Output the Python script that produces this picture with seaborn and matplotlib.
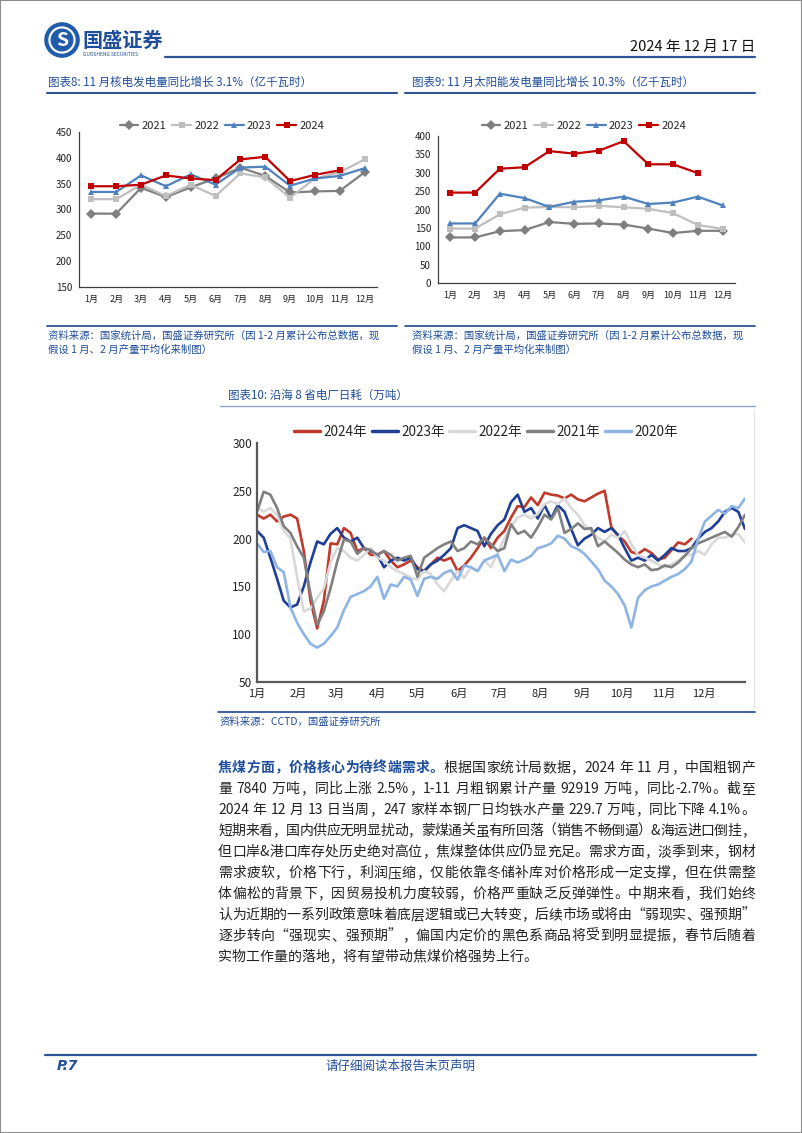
import re
import numpy as np
import pandas as pd
import matplotlib
matplotlib.use("Agg")
import matplotlib.pyplot as plt
from matplotlib.lines import Line2D
from matplotlib.patches import Circle, Rectangle
import seaborn as sns

sns.set_theme(style="white")
plt.rcParams['font.family'] = ['Noto Sans CJK SC', 'DejaVu Sans']
plt.rcParams['axes.unicode_minus'] = False

W, H = 802, 1133
BLUE = '#1F4E9D'
LINE_BLUE = '#2F5597'

# ---- data: 图表8 核电 / 图表9 太阳能 (亿千瓦时) ----
months = [f'{i}月' for i in range(1, 13)]
years = ['2021', '2022', '2023', '2024']

nuclear_2021 = [292, 292, 342, 324, 343, 360, 381, 365, 333, 335, 336, 372]
nuclear_2022 = [320, 320, 348, 326, 348, 326, 370, 362, 323, 360, 372, 397]
nuclear_2023 = [334, 334, 366, 345, 368, 348, 381, 383, 346, 360, 365, 380]
nuclear_2024 = [345, 345, 348, 366, 360, 357, 397, 402, 355, 367, 376]

solar_2021 = [124, 124, 141, 144, 166, 161, 162, 159, 148, 136, 142, 142]
solar_2022 = [148, 148, 187, 205, 207, 206, 210, 206, 202, 190, 158, 147]
solar_2023 = [162, 162, 243, 231, 207, 221, 225, 235, 215, 219, 235, 211]
solar_2024 = [246, 246, 311, 315, 359, 352, 360, 386, 323, 323, 299]

# ---- data: 图表10 沿海8省电厂日耗 (万吨), one reading every 5 days ----
coal_years = ['2024年', '2023年', '2022年', '2021年', '2020年']
coal_2024 = [225, 221, 225, 218, 223, 225, 221, 187, 135, 106,
             135, 195, 194, 211, 206, 187, 190, 183, 183, 187,
             177, 170, 173, 177, 170, 166, 173, 180, 177, 180,
             166, 172, 180, 190, 201, 190, 201, 208, 222, 234,
             233, 243, 235, 248, 246, 245, 242, 246, 241, 239,
             243, 247, 250, 212, 203, 197, 186, 184, 189, 185,
             178, 180, 188, 196, 194, 200]
coal_2023 = [208, 201, 180, 158, 135, 128, 131, 150, 175, 197,
             194, 205, 211, 201, 197, 201, 190, 187, 183, 170,
             177, 180, 177, 180, 168, 166, 173, 177, 183, 190,
             211, 214, 211, 208, 192, 205, 214, 220, 238, 246,
             228, 232, 221, 235, 221, 235, 228, 210, 193, 200,
             204, 211, 207, 211, 204, 190, 177, 180, 177, 183,
             177, 183, 190, 187, 187, 190, 200, 207, 211, 218,
             228, 232, 228, 210]
coal_2022 = [233, 228, 232, 225, 208, 200, 160, 124, 127, 138,
             148, 175, 190, 187, 180, 177, 183, 190, 180, 177,
             170, 166, 163, 159, 157, 166, 163, 152, 145, 156,
             166, 159, 170, 166, 177, 170, 185, 200, 213, 222,
             225, 221, 226, 236, 239, 236, 242, 232, 225, 214,
             208, 201, 197, 204, 201, 208, 194, 183, 180, 177,
             173, 170, 173, 177, 183, 183, 187, 183, 194, 201,
             201, 204, 205, 196]
coal_2021 = [228, 249, 246, 232, 213, 206, 192, 180, 142, 110,
             124, 148, 176, 199, 197, 184, 190, 188, 183, 187,
             183, 177, 180, 182, 160, 180, 185, 190, 194, 197,
             187, 190, 197, 194, 201, 194, 187, 190, 215, 205,
             208, 201, 212, 225, 220, 232, 206, 210, 216, 210,
             211, 192, 197, 191, 185, 178, 173, 170, 173, 167,
             168, 172, 170, 175, 182, 190, 195, 198, 201, 204,
             207, 202, 212, 225]
coal_2020 = [195, 186, 187, 170, 165, 128, 112, 100, 90, 86,
             90, 98, 107, 125, 139, 142, 145, 150, 160, 137,
             152, 150, 160, 157, 140, 158, 160, 158, 164, 167,
             157, 172, 170, 166, 177, 180, 183, 166, 178, 175,
             178, 182, 190, 192, 195, 203, 200, 192, 189, 184,
             176, 168, 156, 150, 142, 130, 107, 138, 146, 150,
             152, 156, 160, 163, 168, 176, 200, 218, 224, 230,
             226, 234, 232, 242]
month_start_days = [0, 31, 59, 90, 120, 151, 181, 212, 243, 273, 304, 334]

body_lines = [
    [("焦煤方面，价格核心为待终端需求。", BLUE, 'bold'),
     ("根据国家统计局数据，2024 年 11 月，中国粗钢产", '#222222', 'normal')],
    [("量 7840 万吨，同比上涨 2.5%，1-11 月粗钢累计产量 92919 万吨，同比-2.7%。截至", '#222222', 'normal')],
    [("2024 年 12 月 13 日当周，247 家样本钢厂日均铁水产量 229.7 万吨，同比下降 4.1%。", '#222222', 'normal')],
    [("短期来看，国内供应无明显扰动，蒙煤通关虽有所回落（销售不畅倒逼）&海运进口倒挂，", '#222222', 'normal')],
    [("但口岸&港口库存处历史绝对高位，焦煤整体供应仍显充足。需求方面，淡季到来，钢材", '#222222', 'normal')],
    [("需求疲软，价格下行，利润压缩，仅能依靠冬储补库对价格形成一定支撑，但在供需整", '#222222', 'normal')],
    [("体偏松的背景下，因贸易投机力度较弱，价格严重缺乏反弹弹性。中期来看，我们始终", '#222222', 'normal')],
    [("认为近期的一系列政策意味着底层逻辑或已大转变，后续市场或将由“弱现实、强预期”", '#222222', 'normal')],
    [("逐步转向“强现实、强预期”，偏国内定价的黑色系商品将受到明显提振，春节后随着", '#222222', 'normal')],
    [("实物工作量的落地，将有望带动焦煤价格强势上行。", '#222222', 'normal')],
]


def fx(x):
    return x / W


def fy(y):
    return 1 - y / H


def hline(x0, x1, y, lw=1.5, color=LINE_BLUE):
    fig.add_artist(Line2D([fx(x0), fx(x1)], [fy(y), fy(y)], lw=lw, color=color))


fig = plt.figure(figsize=(W / 100, H / 100), dpi=100)
fig.patch.set_facecolor('white')
fig.add_artist(Rectangle((0, 0), 1, 1, fill=False, edgecolor='#8C8C8C', lw=1.5,
                         transform=fig.transFigure))

# header
logo = fig.add_axes([fx(44), fy(58), fx(36), 36 / H])
logo.set_xlim(-1, 1)
logo.set_ylim(-1, 1)
logo.set_aspect('equal')
logo.axis('off')
logo.add_patch(Circle((0, 0), 0.95, color='#1F5BAA'))
logo.add_patch(Circle((0, 0), 0.72, color='white'))
logo.add_patch(Circle((0, 0), 0.6, color='#1F5BAA'))
logo.text(0, -0.05, 'S', color='white', fontsize=14, weight='bold', ha='center', va='center')
fig.text(fx(82), fy(40), '国盛证券', fontsize=14.5, weight='bold', color='#1F4E9D', va='center')
fig.text(fx(83), fy(55), 'GUOSHENG SECURITIES', fontsize=3.5, color='#1F4E9D', va='center')
hline(165, 755, 57, lw=1.6)
fig.text(fx(755), fy(47), '2024 年 12 月 17 日', fontsize=10.5, color='#111111',
         ha='right', va='center')

# titles for the two top charts
fig.text(fx(48), fy(82), '图表8: 11 月核电发电量同比增长 3.1%（亿千瓦时）',
         fontsize=8.3, color=BLUE, va='center')
fig.text(fx(412), fy(82), '图表9: 11 月太阳能发电量同比增长 10.3%（亿千瓦时）',
         fontsize=8.3, color=BLUE, va='center')
hline(47, 397, 93)
hline(405, 755, 93)

palette = {'2021': '#7F7F7F', '2022': '#BFBFBF', '2023': '#4F81BD', '2024': '#C00000'}
markers = {'2021': 'D', '2022': 's', '2023': '^', '2024': 's'}


def monthly_frame(series):
    rows = []
    for yr, vals in zip(years, series):
        for m, v in zip(months, vals):
            rows.append({'month': m, 'year': yr, 'value': v})
    return pd.DataFrame(rows)


def monthly_chart(rect, series, yticks, legend_x):
    ax = fig.add_axes(rect)
    df = monthly_frame(series)
    sns.lineplot(data=df, x='month', y='value', hue='year', style='year',
                 palette=palette, markers=markers, dashes=False, sort=False,
                 markersize=5, markeredgewidth=0, lw=1.6, legend=False, ax=ax)
    ax.set_xlim(-0.5, 11.5)
    ax.set_ylim(yticks[0], yticks[-1])
    ax.set_yticks(yticks)
    ax.set_xticks(range(12))
    ax.set_xticklabels(months, fontsize=6.5)
    ax.set_xticks(np.arange(-0.5, 12, 1), minor=True)
    ax.tick_params(axis='x', which='major', length=0, pad=6, colors='#222222')
    ax.tick_params(axis='x', which='minor', length=4, width=0.8, color='#404040', direction='out')
    ax.tick_params(axis='y', length=3, width=0.8, color='#404040', direction='out',
                   labelsize=7, pad=2, colors='#222222')
    ax.set_xlabel('')
    ax.set_ylabel('')
    for s in ['top', 'right']:
        ax.spines[s].set_visible(False)
    for s in ['left', 'bottom']:
        ax.spines[s].set_color('#404040')
        ax.spines[s].set_linewidth(0.9)
    handles = [Line2D([], [], color=palette[y], marker=markers[y], markersize=5,
                      markeredgewidth=0, lw=1.6, label=y) for y in years]
    fig.legend(handles=handles, loc='center', bbox_to_anchor=(fx(legend_x), fy(126)),
               ncol=4, frameon=False, fontsize=8, handlelength=1.7, handletextpad=0.3,
               columnspacing=0.5)
    return ax


monthly_chart([fx(79), fy(287), fx(298), 155 / H],
              [nuclear_2021, nuclear_2022, nuclear_2023, nuclear_2024],
              list(range(150, 451, 50)), 222)
monthly_chart([fx(438), fy(283), fx(297), 147 / H],
              [solar_2021, solar_2022, solar_2023, solar_2024],
              list(range(0, 401, 50)), 584)

# sources under the top charts
hline(47, 397, 326, lw=1.3)
hline(405, 755, 326, lw=1.3)
src = '资料来源：国家统计局，国盛证券研究所（因 1-2 月累计公布总数据，现'
src2 = '假设 1 月、2 月产量平均化来制图）'
for x0 in (48, 412):
    fig.text(fx(x0), fy(336), src, fontsize=7.5, color=BLUE, va='center')
    fig.text(fx(x0), fy(350), src2, fontsize=7.5, color=BLUE, va='center')

# chart 10
fig.text(fx(228), fy(395), '图表10: 沿海 8 省电厂日耗（万吨）', fontsize=8.3, color=BLUE, va='center')
hline(220, 755, 406, lw=1.0, color='#8EA3C8')
fig.add_artist(Line2D([fx(754), fx(754)], [fy(410), fy(708)], lw=0.8, color='#E3E3E3'))

coal_palette = {'2024年': '#C0392B', '2023年': '#1F3F97', '2022年': '#D9D9D9',
                '2021年': '#808080', '2020年': '#8DB4E2'}
coal_series = [coal_2024, coal_2023, coal_2022, coal_2021, coal_2020]
rows = []
for yr, vals in zip(coal_years, coal_series):
    for i, v in enumerate(vals):
        rows.append({'day': i * 5, 'year': yr, 'value': v})
coal_df = pd.DataFrame(rows)

ax3 = fig.add_axes([fx(257), fy(682), fx(488), 239 / H])
sns.lineplot(data=coal_df, x='day', y='value', hue='year', hue_order=coal_years,
             palette=coal_palette, lw=1.9, legend=False, ax=ax3)
ax3.set_xlim(0, 365)
ax3.set_ylim(50, 300)
ax3.set_yticks(range(50, 301, 50))
ax3.set_xticks(month_start_days)
ax3.set_xticklabels(months, fontsize=8)
ax3.tick_params(axis='both', direction='in', length=4, width=1.2, color='#595959',
                labelsize=8.5, colors='#222222')
ax3.tick_params(axis='x', labelsize=8, pad=5)
ax3.set_xlabel('')
ax3.set_ylabel('')
for s in ['top', 'right']:
    ax3.spines[s].set_visible(False)
for s in ['left', 'bottom']:
    ax3.spines[s].set_color('#595959')
    ax3.spines[s].set_linewidth(1.6)
coal_handles = [Line2D([], [], color=coal_palette[y], lw=2.5, label=y) for y in coal_years]
fig.legend(handles=coal_handles, loc='center', bbox_to_anchor=(fx(486), fy(432)), ncol=5,
           frameon=False, fontsize=9.8, handlelength=1.9, handletextpad=0.25,
           columnspacing=0.35)

hline(218, 755, 712, lw=1.3)
fig.text(fx(220), fy(722), '资料来源：CCTD，国盛证券研究所', fontsize=7.5, color=BLUE, va='center')

# body text, justified by hand
renderer = fig.canvas.get_renderer()


def draw_line(segments, y, justify=True, x0=218, x1=755, size=10):
    items = []
    for s, c, w in segments:
        for t in re.findall(r'[A-Za-z0-9.%\-]+| |.', s):
            if t == ' ':
                items.append((None, 3.5))
                continue
            tx = fig.text(0, fy(y), t, color=c, weight=w, fontsize=size, va='center')
            items.append((tx, tx.get_window_extent(renderer).width))
    total = sum(w for _, w in items)
    gap = (x1 - x0 - total) / (len(items) - 1) if justify else 0
    x = x0
    for tx, wd in items:
        if tx is not None:
            tx.set_x(fx(x))
        x += wd + gap


for i, segs in enumerate(body_lines):
    draw_line(segs, 768 + 21 * i, justify=(i < len(body_lines) - 1))

# footer
hline(45, 756, 1055, lw=1.6)
fig.text(fx(57), fy(1066), 'P.7', fontsize=10, weight='bold', style='italic', color=BLUE,
         va='center', family='DejaVu Sans')
fig.text(fx(400), fy(1066), '请仔细阅读本报告末页声明', fontsize=9, color=BLUE,
         ha='center', va='center')

fig.savefig('out.png', dpi=100)
